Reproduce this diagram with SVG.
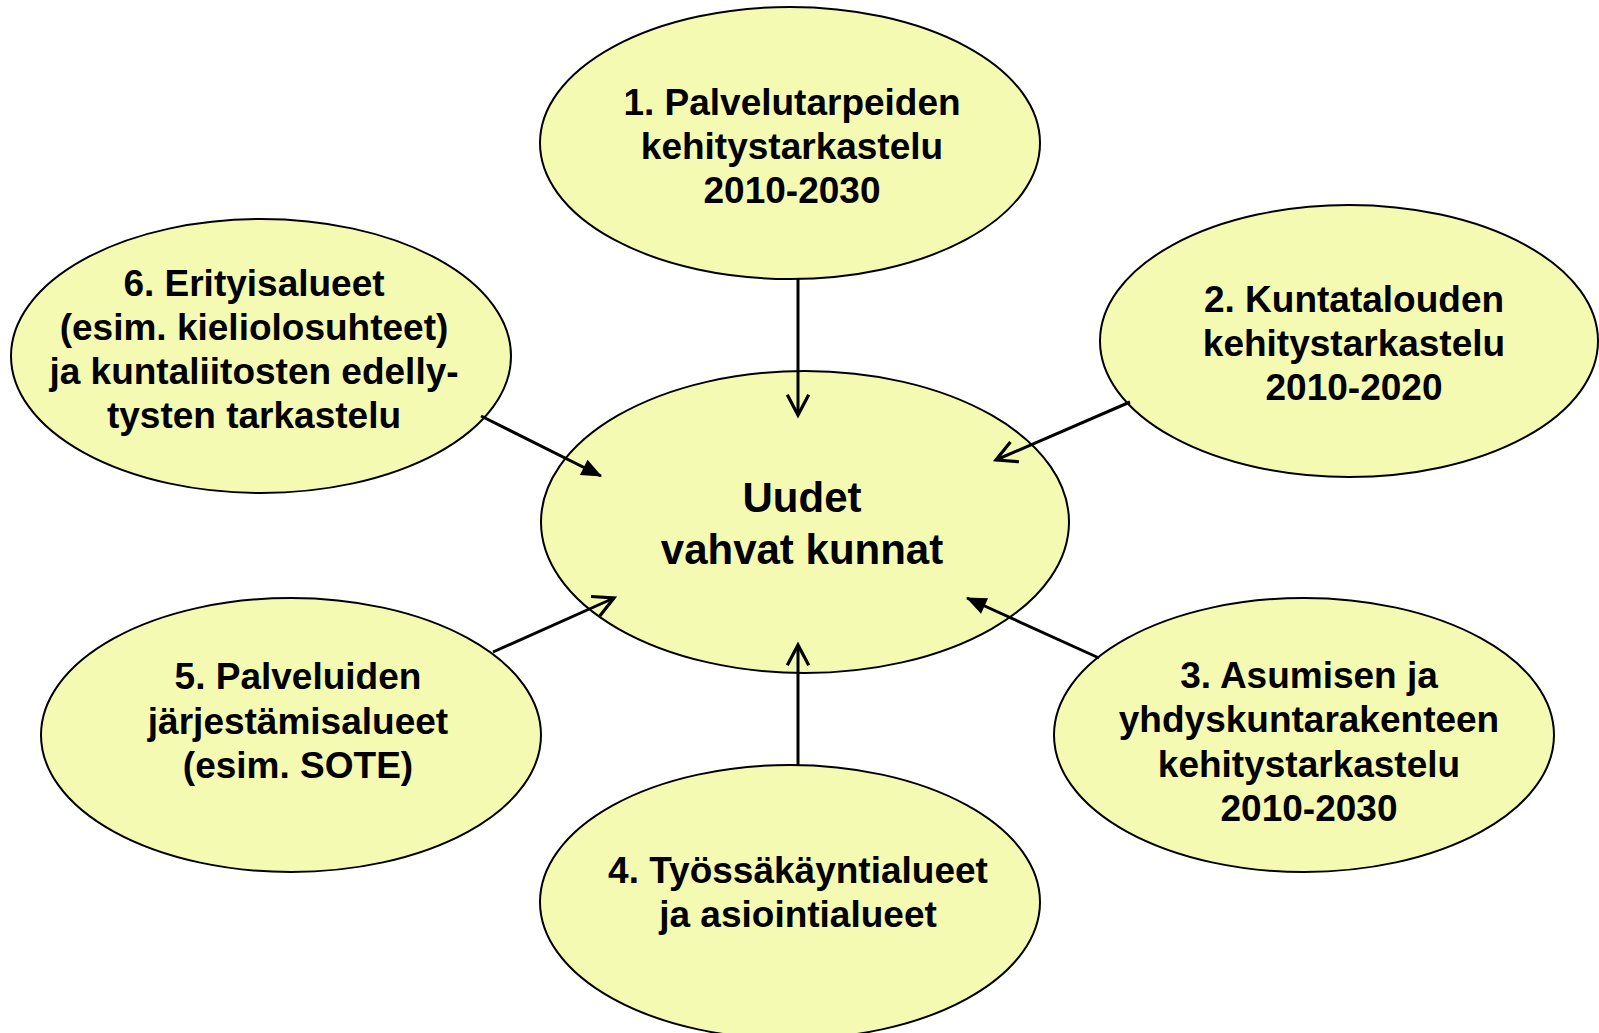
<svg xmlns="http://www.w3.org/2000/svg" width="1599" height="1033" viewBox="0 0 1599 1033">
<style>
.n{fill:#F5FAB3;stroke:#000;stroke-width:2}
.t{font-family:"Liberation Sans",Arial,sans-serif;font-weight:bold;font-size:37px;fill:#000;text-anchor:middle}
.c{font-size:42px}
.e{stroke:#000;stroke-width:3;fill:none}
</style>
<defs>
<marker id="v" markerUnits="userSpaceOnUse" markerWidth="30" markerHeight="30" viewBox="-24 -14 28 28" refX="0" refY="0" orient="auto">
<path d="M-19,-10 L0,0 L-19,10" fill="none" stroke="#000" stroke-width="3"/>
</marker>
<marker id="f" markerUnits="userSpaceOnUse" markerWidth="30" markerHeight="30" viewBox="-24 -14 28 28" refX="0" refY="0" orient="auto">
<path d="M-18,-8 L1,0 L-18,8 Z" fill="#000"/>
</marker>
</defs>
<rect width="1599" height="1033" fill="#fff"/>
<g id="center">
<ellipse class="n" cx="805" cy="522" rx="264" ry="151"/>
<text class="t c" x="802" y="512">Uudet</text>
<text class="t c" x="802" y="564">vahvat kunnat</text>
</g>
<g id="node1">
<ellipse class="n" cx="790" cy="143" rx="250" ry="136"/>
<text class="t" x="792" y="115">1. Palvelutarpeiden</text>
<text class="t" x="792" y="159">kehitystarkastelu</text>
<text class="t" x="792" y="203">2010-2030</text>
</g>
<g id="node2">
<ellipse class="n" cx="1349" cy="341" rx="249" ry="136"/>
<text class="t" x="1354" y="312">2. Kuntatalouden</text>
<text class="t" x="1354" y="356">kehitystarkastelu</text>
<text class="t" x="1354" y="400">2010-2020</text>
</g>
<g id="node3">
<ellipse class="n" cx="1304" cy="735" rx="250" ry="137"/>
<text class="t" x="1309" y="688">3. Asumisen ja</text>
<text class="t" x="1309" y="732">yhdyskuntarakenteen</text>
<text class="t" x="1309" y="777">kehitystarkastelu</text>
<text class="t" x="1309" y="821">2010-2030</text>
</g>
<g id="node4">
<ellipse class="n" cx="790" cy="902" rx="250" ry="137"/>
<text class="t" x="798" y="883">4. Työssäkäyntialueet</text>
<text class="t" x="798" y="927">ja asiointialueet</text>
</g>
<g id="node5">
<ellipse class="n" cx="291" cy="735" rx="250" ry="137"/>
<text class="t" x="298" y="689">5. Palveluiden</text>
<text class="t" x="298" y="734">järjestämisalueet</text>
<text class="t" x="298" y="778">(esim. SOTE)</text>
</g>
<g id="node6">
<ellipse class="n" cx="261" cy="356" rx="250" ry="137"/>
<text class="t" x="254" y="296">6. Erityisalueet</text>
<text class="t" x="254" y="340">(esim. kieliolosuhteet)</text>
<text class="t" x="254" y="384">ja kuntaliitosten edelly-</text>
<text class="t" x="254" y="428">tysten tarkastelu</text>
</g>
<g id="connectors">
<line class="e" x1="798" y1="279" x2="798" y2="415" marker-end="url(#v)"/>
<line class="e" x1="1130" y1="402" x2="996" y2="460" marker-end="url(#v)"/>
<line class="e" x1="1099" y1="658" x2="967" y2="598" marker-end="url(#f)"/>
<line class="e" x1="798" y1="765" x2="798" y2="645" marker-end="url(#v)"/>
<line class="e" x1="493" y1="652" x2="614" y2="598" marker-end="url(#v)"/>
<line class="e" x1="481" y1="416" x2="601" y2="476" marker-end="url(#f)"/>
</g>
</svg>
